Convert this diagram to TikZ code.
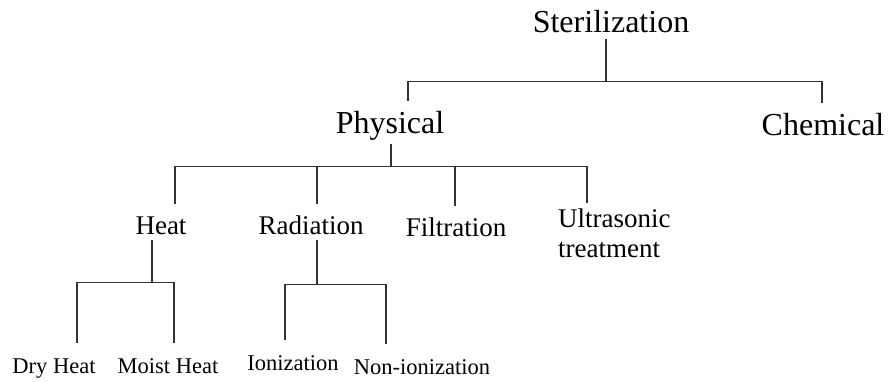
\documentclass[tikz,border=0pt]{standalone}
\usepackage{fontspec}
\setmainfont{Liberation Serif}

\begin{document}
\begin{tikzpicture}[x=1pt, y=-1pt]
  \tikzstyle{rootlabel} = [font=\fontsize{32}{36}\selectfont, anchor=base, inner sep=0pt, text depth=7pt]
  \tikzstyle{mainlabel} = [font=\fontsize{32}{36}\selectfont, anchor=base, inner sep=0pt, text height=32pt, text depth=11pt]
  \tikzstyle{sublabel} = [font=\fontsize{27}{30}\selectfont, anchor=base, inner sep=0pt, text height=30pt, text depth=6pt]
  \tikzstyle{leaflabel} = [font=\fontsize{22.5}{26}\selectfont, anchor=base, inner sep=0pt, text height=30pt]
  \tikzstyle{link} = [draw=black!80, line width=1.4pt]

  \useasboundingbox (0,0) rectangle (888,381);

  \node[rootlabel] (Steril) at (611,32) {Sterilization};
  \node[mainlabel] (Phys) at (390,133) {Physical};
  \node[mainlabel] (Chem) at (823,135) {Chemical};

  \node[sublabel] (Heat) at (161,234) {Heat};
  \node[sublabel] (Rad) at (311,234) {Radiation};
  \node[sublabel] (Filt) at (456,236) {Filtration};
  \node[font=\fontsize{27}{30}\selectfont, align=left, anchor=north west,
        inner xsep=0pt, inner ysep=6pt] (Ultra) at (558,203) {Ultrasonic\\treatment};

  \node[leaflabel] (Dry) at (54,373) {Dry Heat};
  \node[leaflabel] (Moist) at (168,373) {Moist Heat};
  \node[leaflabel] (Ion) at (293,370) {Ionization};
  \node[leaflabel] (NonIon) at (422,374) {Non-ionization};

  % top level
  \draw[link] ([xshift=-5pt]Steril.south) -- ++(0,42) coordinate (sbar);
  \draw[link] ([xshift=18pt]Phys.north) |- (sbar) -| ([xshift=-1pt]Chem.north);

  % physical methods
  \draw[link] ([xshift=1pt]Phys.south) -- ++(0,22) coordinate (pbar);
  \draw[link] ([xshift=14pt]Heat.north) |- (pbar) -| ([xshift=29pt]Ultra.north west);
  \draw[link] ([xshift=6pt]Rad.north) |- (pbar);
  \draw[link] ([xshift=-1pt]Filt.north) |- (pbar);

  % heat
  \draw[link] ([xshift=-9pt]Heat.south) -- ++(0,42) coordinate (hbar);
  \draw[link] ([xshift=23pt]Dry.north) |- (hbar) -| ([xshift=6pt]Moist.north);

  % radiation
  \draw[link] ([xshift=6pt]Rad.south) -- ++(0,44) coordinate (rbar);
  \draw[link] ([xshift=-8pt]Ion.north) |- (rbar) -| ([xshift=-36pt]NonIon.north);
\end{tikzpicture}
\end{document}
